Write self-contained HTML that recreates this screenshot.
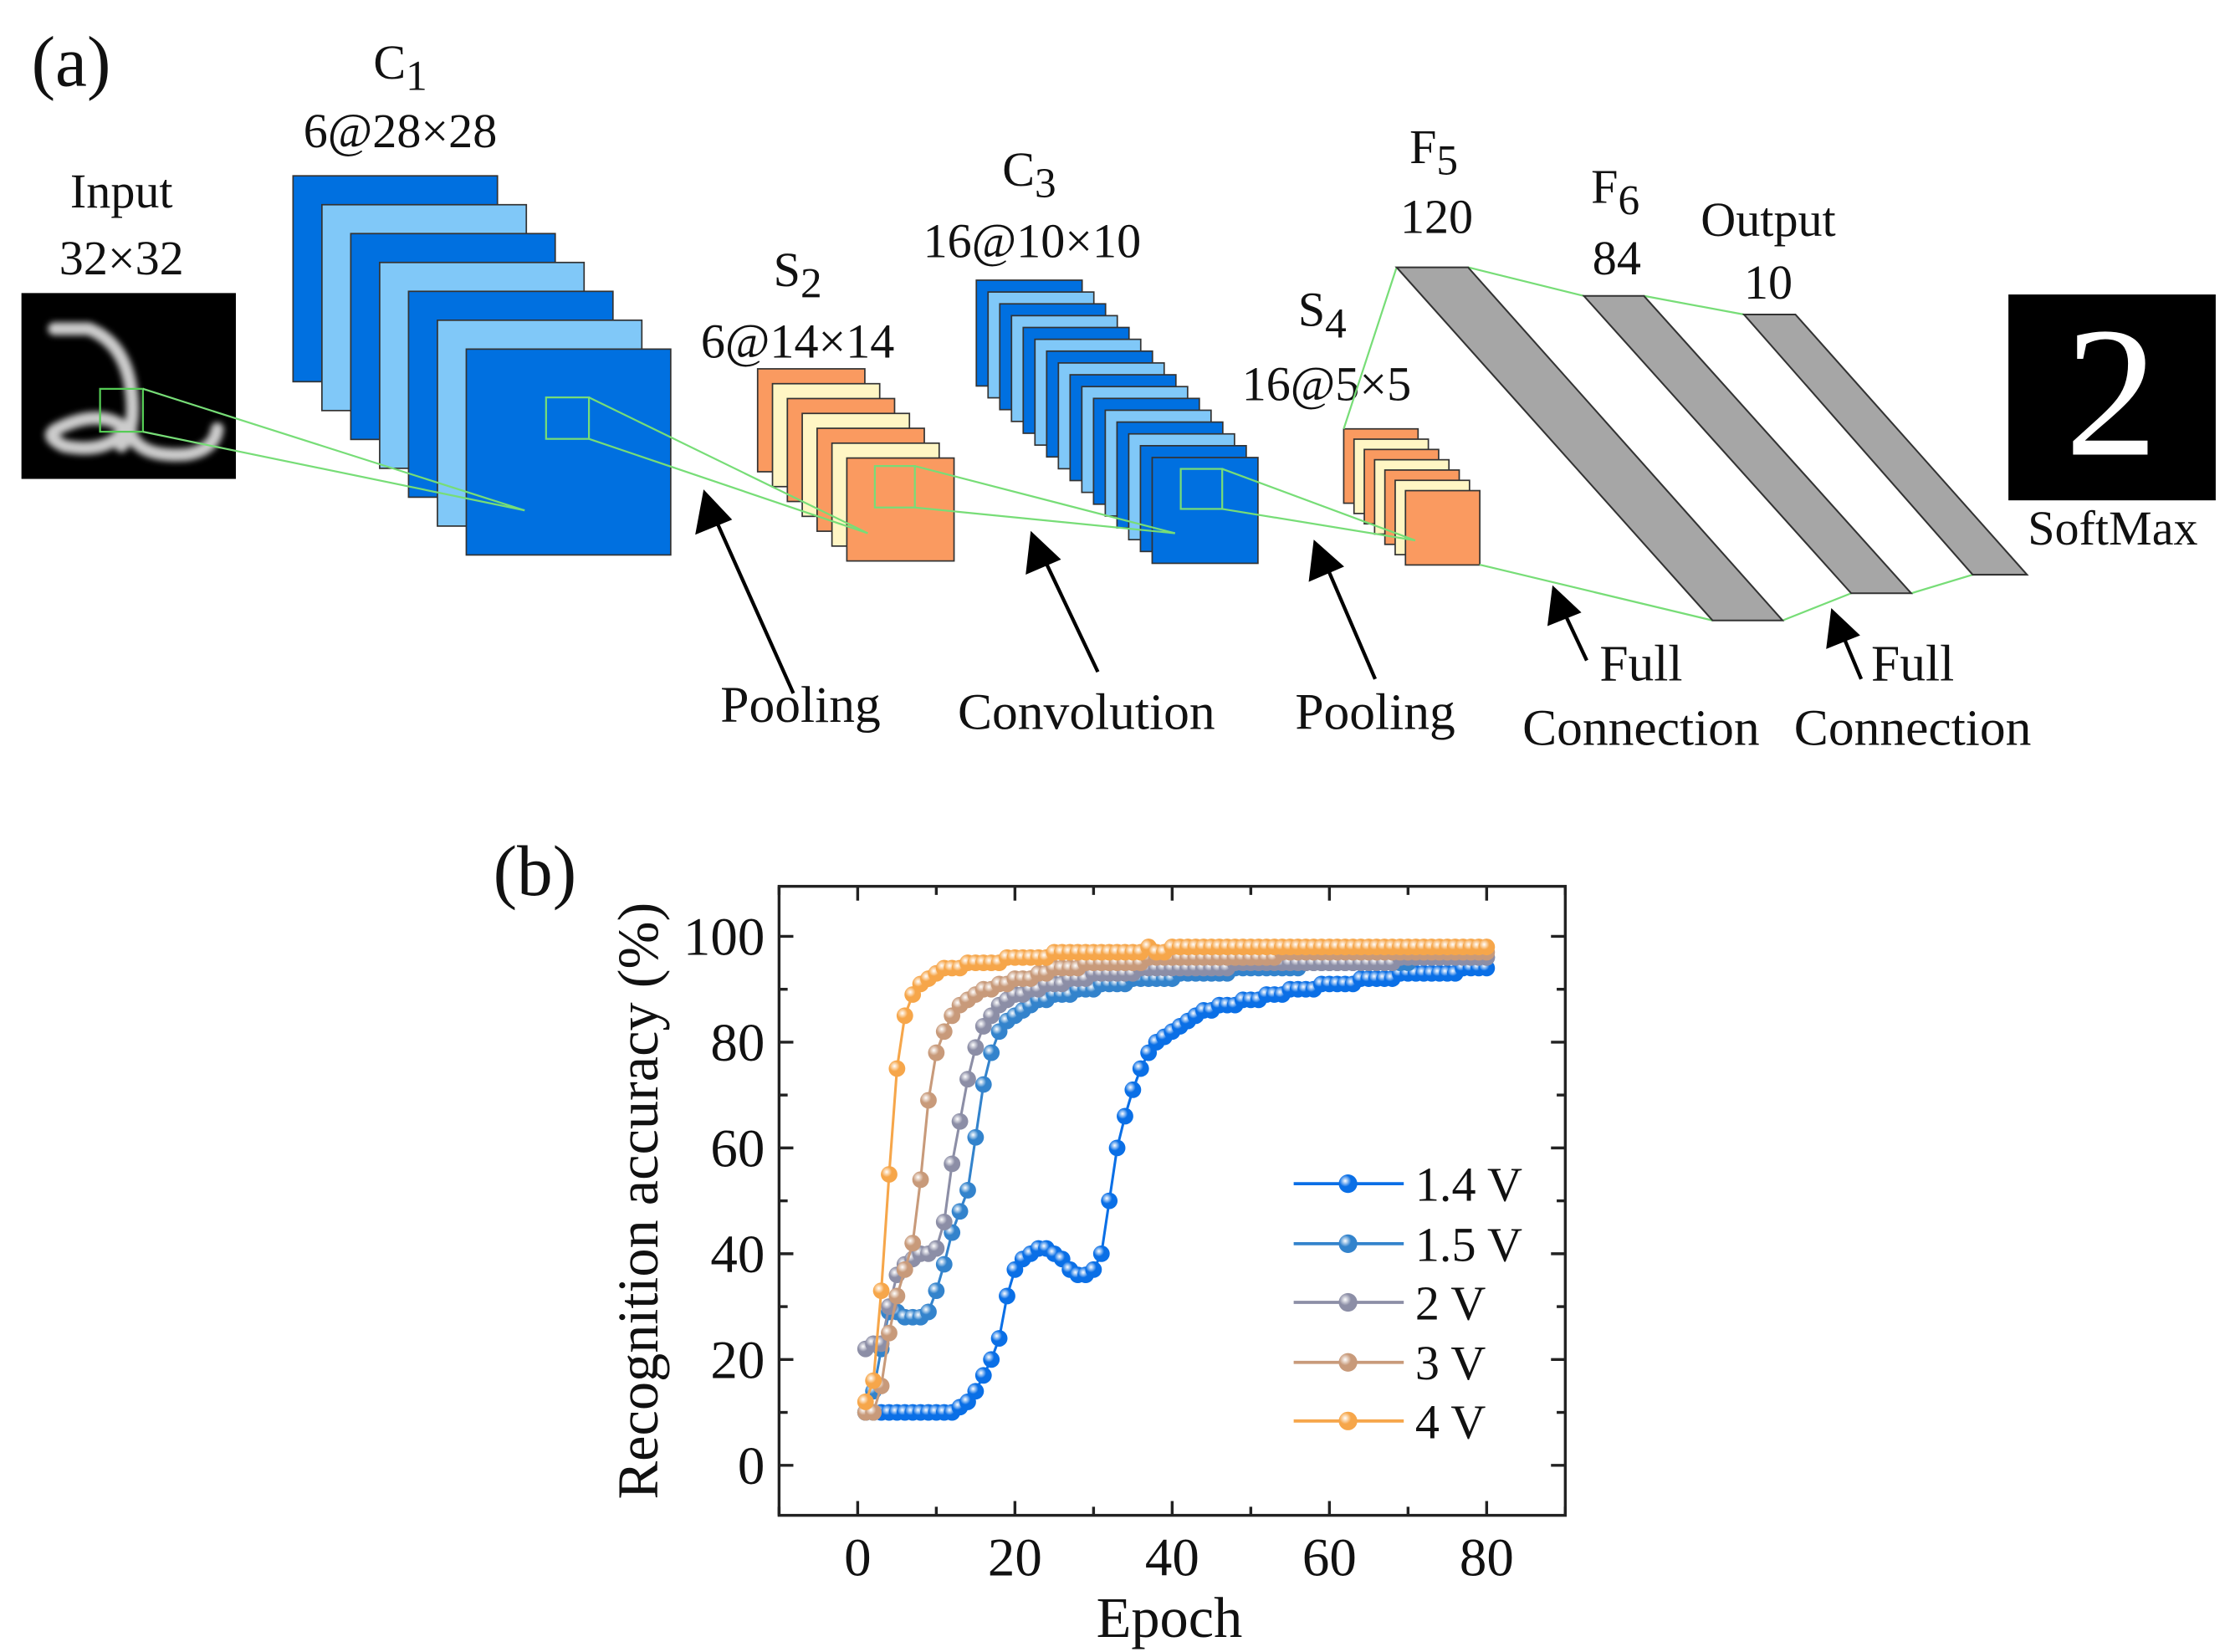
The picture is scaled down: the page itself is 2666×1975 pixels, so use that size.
<!DOCTYPE html>
<html><head><meta charset="utf-8"><style>
html,body{margin:0;padding:0;background:#fff;}
svg{display:block;}
text{font-family:"Liberation Serif","Times New Roman",serif;fill:#111;}
</style></head><body>
<svg id="fig" width="2666" height="1975" viewBox="0 0 1560 1155.6" preserveAspectRatio="none" xmlns="http://www.w3.org/2000/svg" font-family="Liberation Serif, serif">
<defs>
<filter id="blur"><feGaussianBlur stdDeviation="2.2"/></filter>
</defs>
<g id="panelA">
<text x="22" y="60" font-size="50">(a)</text>
<text x="85" y="145" font-size="34" text-anchor="middle">Input</text>
<text x="85" y="192" font-size="34" text-anchor="middle">32×32</text>
<g>
<rect x="15" y="205" width="150" height="130" fill="#000"/>
<path d="M38 230 L62 230 Q88 240 92 275 Q95 300 85 312 M40 300 Q70 285 88 300 Q75 318 45 312 Q30 305 40 300 M92 305 Q100 320 130 318 Q150 315 152 300" stroke="#ccc" stroke-width="9" fill="none" filter="url(#blur)" stroke-linecap="round"/>
<rect x="70" y="272" width="30" height="30" fill="none" stroke="#5c5" stroke-width="1.3"/>
</g>
<text x="280" y="55" font-size="34" text-anchor="middle">C<tspan font-size="30" dy="8">1</tspan></text>
<text x="280" y="103" font-size="34" text-anchor="middle">6@28×28</text>
<g id="c1"></g>
<text x="558" y="200" font-size="34" text-anchor="middle">S<tspan font-size="30" dy="8">2</tspan></text>
<text x="558" y="250" font-size="34" text-anchor="middle">6@14×14</text>
<g id="s2"></g>
<text x="720" y="130" font-size="34" text-anchor="middle">C<tspan font-size="30" dy="8">3</tspan></text>
<text x="722" y="180" font-size="34" text-anchor="middle">16@10×10</text>
<g id="c3"></g>
<text x="925" y="228" font-size="34" text-anchor="middle">S<tspan font-size="30" dy="8">4</tspan></text>
<text x="928" y="280" font-size="34" text-anchor="middle">16@5×5</text>
<g id="s4"></g>
<g stroke="#7d7" stroke-width="1.3" fill="none">
<line x1="100" y1="272" x2="367" y2="357"/><line x1="100" y1="302" x2="367" y2="357"/>
<rect x="382" y="278" width="30" height="29"/>
<line x1="412" y1="278" x2="607" y2="373"/><line x1="412" y1="307" x2="607" y2="373"/>
<rect x="612" y="326" width="28" height="29"/>
<line x1="640" y1="326" x2="822" y2="373"/><line x1="640" y1="355" x2="822" y2="373"/>
<rect x="826" y="328" width="29" height="28"/>
<line x1="855" y1="328" x2="990" y2="378"/><line x1="855" y1="356" x2="990" y2="378"/>
<line x1="940" y1="300" x2="977" y2="187"/><line x1="1035" y1="395" x2="1198" y2="434"/>
<line x1="1027" y1="187" x2="1108" y2="207"/><line x1="1247" y1="434" x2="1295" y2="415"/>
<line x1="1150" y1="207" x2="1220" y2="220"/><line x1="1337" y1="415" x2="1380" y2="402"/>
</g>
<text x="1003" y="114" font-size="34" text-anchor="middle">F<tspan font-size="30" dy="8">5</tspan></text>
<text x="1005" y="163" font-size="34" text-anchor="middle">120</text>
<polygon points="977,187 1027,187 1247,434 1198,434" fill="#a6a6a6" stroke="#333" stroke-width="1.2"/>
<text x="1130" y="142" font-size="34" text-anchor="middle">F<tspan font-size="30" dy="8">6</tspan></text>
<text x="1131" y="192" font-size="34" text-anchor="middle">84</text>
<polygon points="1108,207 1150,207 1337,415 1295,415" fill="#a6a6a6" stroke="#333" stroke-width="1.2"/>
<text x="1237" y="165" font-size="34" text-anchor="middle">Output</text>
<text x="1237" y="209" font-size="34" text-anchor="middle">10</text>
<polygon points="1220,220 1256,220 1418,402 1380,402" fill="#a6a6a6" stroke="#333" stroke-width="1.2"/>
<rect x="1405" y="206" width="145" height="144" fill="#000"/>
<text x="1477" y="318" font-size="130" text-anchor="middle" style="fill:#fff">2</text>
<text x="1478" y="381" font-size="34" text-anchor="middle">SoftMax</text>
<g stroke="#000" stroke-width="2.5" fill="#000">
<line x1="555" y1="485" x2="500" y2="362"/><polygon points="493,345 488,372 510,363"/>
<line x1="768" y1="470" x2="730" y2="390"/><polygon points="722,374 719,400 740,391"/>
<line x1="962" y1="475" x2="928" y2="396"/><polygon points="920,380 917,405 938,396"/>
<line x1="1110" y1="462" x2="1094" y2="428"/><polygon points="1087,412 1084,436 1104,428"/>
<line x1="1302" y1="475" x2="1289" y2="444"/><polygon points="1282,428 1279,452 1299,444"/>
</g>
<text x="560" y="505" font-size="36" text-anchor="middle">Pooling</text>
<text x="760" y="510" font-size="36" text-anchor="middle">Convolution</text>
<text x="962" y="510" font-size="36" text-anchor="middle">Pooling</text>
<text x="1148" y="476" font-size="36" text-anchor="middle">Full</text>
<text x="1148" y="521" font-size="36" text-anchor="middle">Connection</text>
<text x="1338" y="476" font-size="36" text-anchor="middle">Full</text>
<text x="1338" y="521" font-size="36" text-anchor="middle">Connection</text>
</g>
<text x="345" y="626" font-size="50">(b)</text>
<g id="chart"></g>
</svg>
<script>
const NS="http://www.w3.org/2000/svg";
function mk(tag,attrs,parent){const e=document.createElementNS(NS,tag);for(const k in attrs)e.setAttribute(k,attrs[k]);parent.appendChild(e);return e;}
function stack(id,x0,y0,w,h,n,dx,dy,c1,c2,name,lastDark){
  const g=document.getElementById(id);
  for(let i=0;i<n;i++){
    let fill=i%2?c2:c1;
    if(lastDark&&i===n-1)fill=c1;
    const r=mk('rect',{x:x0+i*dx,y:y0+i*dy,width:w,height:h,fill:fill,stroke:'#333','stroke-width':1},g);
    
    
  }
}
stack('c1',205,123,143,144,7,20.2,20.2,'#0070e0','#80c8f8','c1',true);
stack('s2',530,258,75,72,7,10.4,10.4,'#fa9a60','#fff6c4','s2',true);
stack('c3',683,196,74,74,16,8.2,8.27,'#0070e0','#80c8f8','c3',true);
stack('s4',940,300,52,52,7,7.2,7.2,'#fa9a60','#fff6c4','s4',true);

const epochs=[];for(let i=1;i<=80;i++)epochs.push(i);
const seriesLabels=["1.4 V","1.5 V","2 V","3 V","4 V"];
const acc14=[10,10,10,10,10,10,10,10,10,10,10,10,11,12,14,17,20,24,32,37,39,40,41,41,40,39,37,36,36,37,40,50,60,66,71,75,78,80,81,82,83,84,85,86,86,87,87,87,88,88,88,89,89,89,90,90,90,90,91,91,91,91,91,92,92,92,92,92,93,93,93,93,93,93,93,93,94,94,94,94];
const acc15=[10,14,22,29,29,28,28,28,29,33,38,44,48,52,62,72,78,82,84,85,86,87,88,88,89,89,89,90,90,90,91,91,91,91,92,92,92,92,92,92,93,93,93,93,93,93,93,94,94,94,94,94,94,94,94,94,95,95,95,95,95,95,95,95,95,95,95,95,95,95,96,96,96,96,96,96,96,96,96,96];
const acc2=[22,23,23,30,36,38,39,40,40,41,46,57,65,73,79,83,85,87,88,89,89,90,90,91,91,91,92,92,92,93,93,93,93,93,93,94,94,94,94,94,94,94,94,94,94,94,94,95,95,95,95,95,95,95,95,95,95,95,95,95,95,95,95,95,95,95,95,95,96,96,96,96,96,96,96,96,96,96,96,96];
const acc3=[10,10,15,25,32,37,42,54,69,78,82,85,87,88,89,90,90,91,91,92,92,92,93,93,94,94,94,94,95,95,95,95,95,95,95,95,96,96,96,96,96,96,96,96,96,96,96,96,96,96,96,96,96,97,97,97,97,97,97,97,97,97,97,97,97,97,97,97,97,97,97,97,97,97,97,97,97,97,97,97];
const acc4=[12,16,33,55,75,85,89,91,92,93,94,94,94,95,95,95,95,95,96,96,96,96,96,96,97,97,97,97,97,97,97,97,97,97,97,97,98,97,97,98,98,98,98,98,98,98,98,98,98,98,98,98,98,98,98,98,98,98,98,98,98,98,98,98,98,98,98,98,98,98,98,98,98,98,98,98,98,98,98,98];
const xTicks=[0,20,40,60,80];
const yTicks=[0,20,40,60,80,100];
const seriesData=[acc14,acc15,acc2,acc3,acc4];
const colors=['#0a6fe6','#3383cc','#8c8ea6','#c89a7a','#f6a64a'];

const PL=545,PR=1095,PT=620,PB=1060;
const xs=v=>600+v*5.5;
const ys=v=>1025-v*3.7;
const C=document.getElementById('chart');
const svg=document.getElementById('fig');
const defs=svg.querySelector('defs');
colors.forEach((c,i)=>{
  const rg=mk('radialGradient',{id:'g'+i,cx:'0.35',cy:'0.35',r:'0.7'},defs);
  mk('stop',{offset:'0','stop-color':'#fff'},rg);
  mk('stop',{offset:'0.45','stop-color':c},rg);
  mk('stop',{offset:'1','stop-color':c},rg);
});
const frame=mk('rect',{x:PL,y:PT,width:PR-PL,height:PB-PT,fill:'none',stroke:'#222','stroke-width':2},C);


for(let v=0;v<=100;v+=10){
  const len=v%20===0?10:6;
  const t1=mk('line',{x1:PL,x2:PL+len,y1:ys(v),y2:ys(v),stroke:'#222','stroke-width':2},C);
  
  
  const t2=mk('line',{x1:PR,x2:PR-len,y1:ys(v),y2:ys(v),stroke:'#222','stroke-width':2},C);
  
  
}
for(let v=-10;v<=90;v+=10){
  const len=v%20===0?10:6;
  const t1=mk('line',{x1:xs(v),x2:xs(v),y1:PB,y2:PB-len,stroke:'#222','stroke-width':2},C);
  
  
  const t2=mk('line',{x1:xs(v),x2:xs(v),y1:PT,y2:PT+len,stroke:'#222','stroke-width':2},C);
  
  
}
yTicks.forEach(v=>{
  const t=mk('text',{x:PL-10,y:ys(v)+13,'font-size':38,'text-anchor':'end'},C);t.textContent=v;
  
  
});
xTicks.forEach(v=>{
  const t=mk('text',{x:xs(v),y:PB+42,'font-size':38,'text-anchor':'middle'},C);t.textContent=v;
  
  
});
const xt=mk('text',{x:818,y:1145,'font-size':40,'text-anchor':'middle'},C);xt.textContent='Epoch';


const yt=mk('text',{x:0,y:0,'font-size':40,'text-anchor':'middle',transform:'translate(460,840) rotate(-90)'},C);yt.textContent='Recognition accuracy (%)';


seriesData.forEach((d,si)=>{
  const g=mk('g',{},C);
  
  
  const pts=d.map((v,i)=>xs(epochs[i])+','+ys(v)).join(' ');
  const pl=mk('polyline',{points:pts,fill:'none',stroke:colors[si],'stroke-width':1.8},g);
  
  
  d.forEach((v,i)=>{
    const c=mk('circle',{cx:xs(epochs[i]),cy:ys(v),r:5.8,fill:'url(#g'+si+')'},g);
    
    
  });
});
const legY=[828,870,911,953,994];
seriesLabels.forEach((lab,i)=>{
  const g=mk('g',{},C);
  
  
  mk('line',{x1:905,x2:982,y1:legY[i],y2:legY[i],stroke:colors[i],'stroke-width':2.2},g);
  mk('circle',{cx:943,cy:legY[i],r:6.5,fill:'url(#g'+i+')'},g);
  const t=mk('text',{x:990,y:legY[i]+12,'font-size':34},g);t.textContent=lab;
});
</script>
</body></html>
